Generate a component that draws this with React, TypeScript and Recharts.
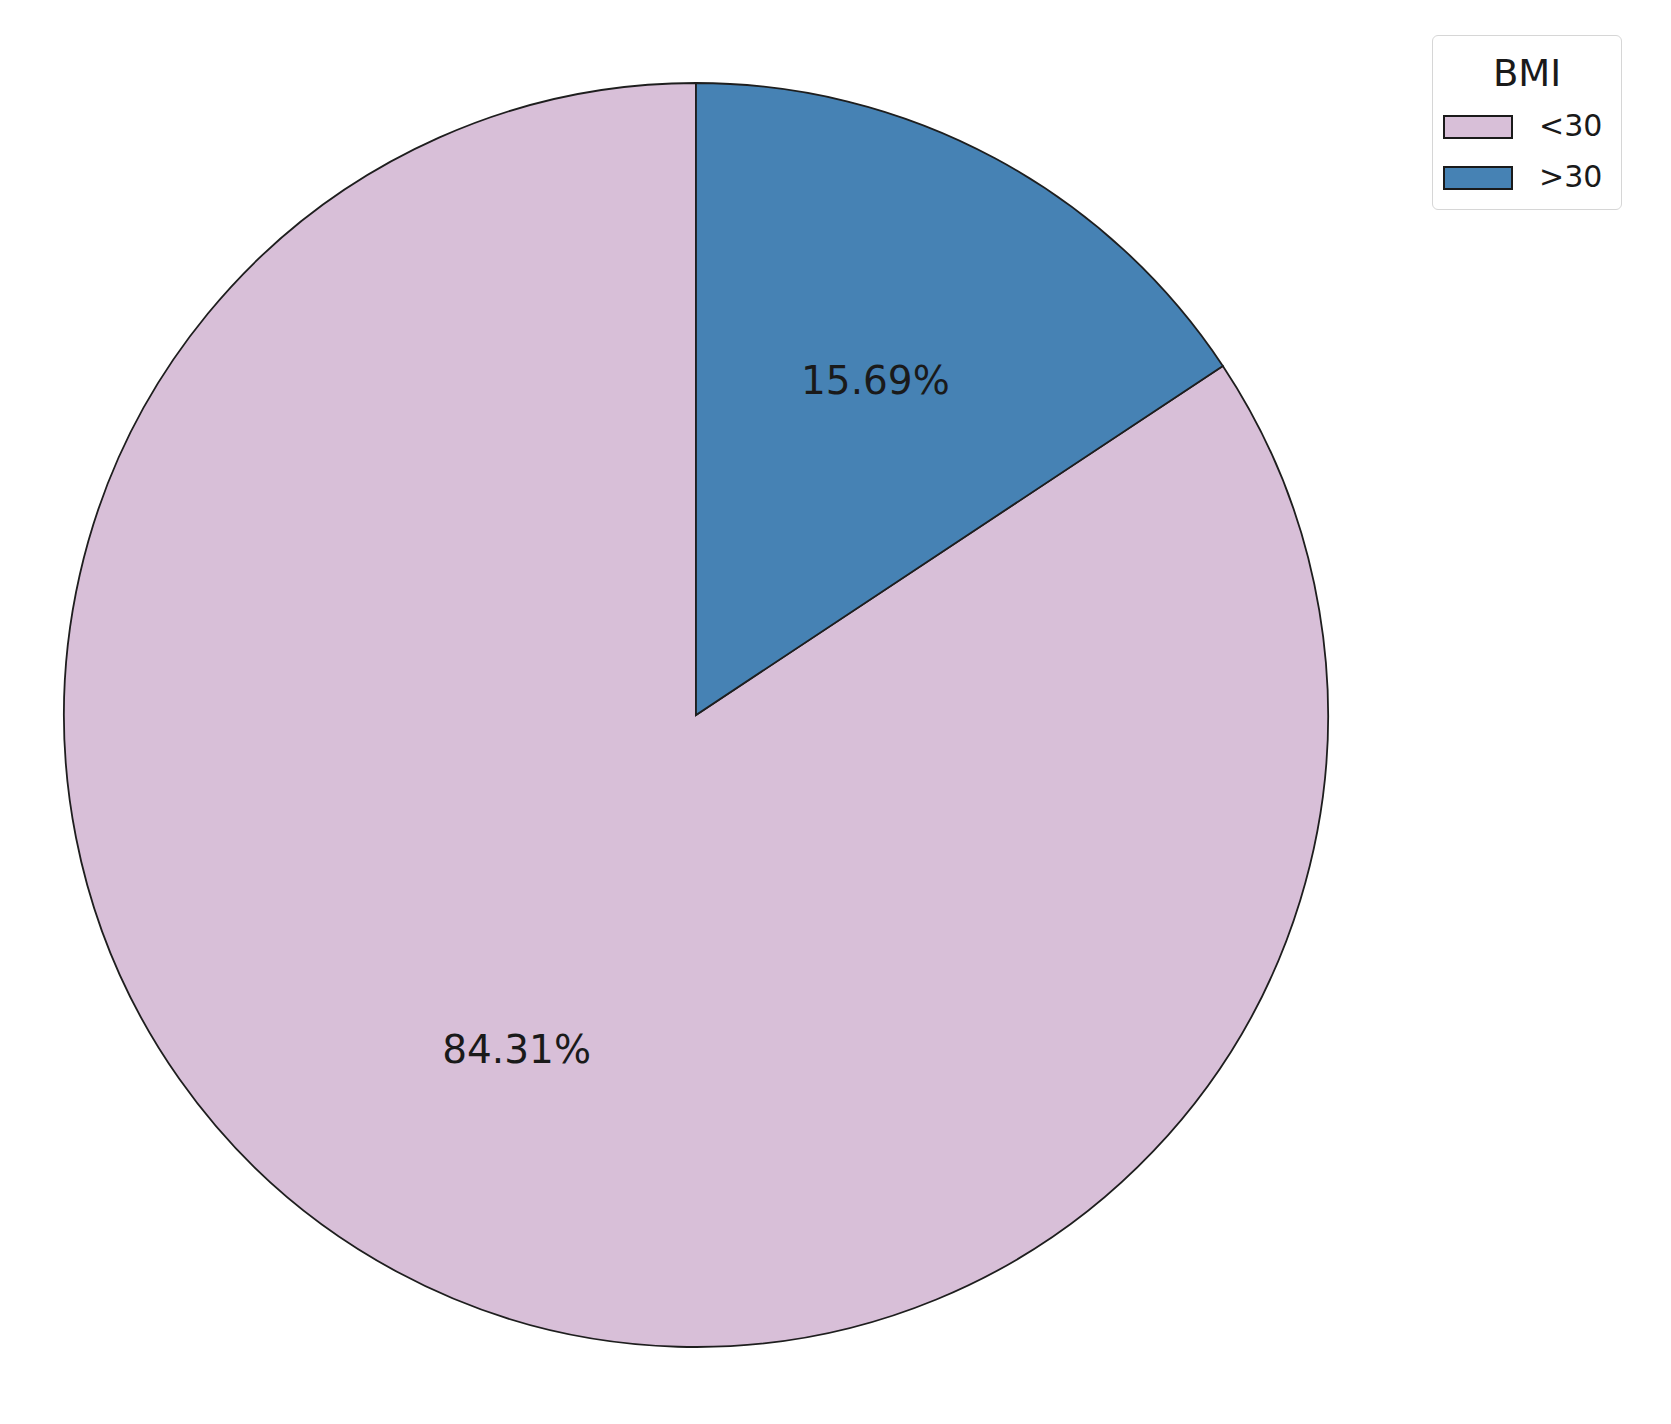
import { PieChart, Pie, Cell, Legend } from 'recharts';

const categories = ['<30', '>30'];
const counts = [43, 8];
const colors = ['#D8BFD8', '#4682B4'];

const data = categories.map((name, i) => ({ name, value: counts[i] }));
const total = counts.reduce((a, b) => a + b, 0);

const RADIAN = Math.PI / 180;

function renderLabel(props: any) {
  const { cx, cy, midAngle, outerRadius, value } = props;
  const r = outerRadius * 0.6;
  const x = cx + r * Math.cos(-midAngle * RADIAN);
  const y = cy + r * Math.sin(-midAngle * RADIAN);
  return (
    <text
      x={x}
      y={y}
      textAnchor="middle"
      dominantBaseline="central"
      fontFamily="DejaVu Sans"
      fontSize={39}
      fill="#1a1a1a"
    >
      {((value / total) * 100).toFixed(2)}%
    </text>
  );
}

function LegendBox() {
  return (
    <div
      style={{
        position: 'relative',
        width: 190,
        height: 175,
        boxSizing: 'border-box',
        border: '1.5px solid #d6d6d6',
        borderRadius: 6,
        background: '#fff',
        fontFamily: 'DejaVu Sans',
        color: '#1a1a1a',
      }}
    >
      <div style={{ position: 'absolute', left: 0, width: '100%', top: 14, textAlign: 'center', fontSize: 37, lineHeight: '48px' }}>
        BMI
      </div>
      {categories.map((c, i) => (
        <div key={c}>
          <div
            style={{
              position: 'absolute',
              left: 10,
              top: 79 + i * 51,
              width: 70,
              height: 24,
              boxSizing: 'border-box',
              background: colors[i],
              border: '2px solid #1a1a1a',
            }}
          />
          <div style={{ position: 'absolute', left: 106, top: 70 + i * 51, fontSize: 30, lineHeight: '40px' }}>{c}</div>
        </div>
      ))}
    </div>
  );
}

export default function App() {
  return (
    <div style={{ position: 'absolute', left: 0, top: 0, background: '#fff' }}>
      <PieChart width={1671} height={1424} margin={{ top: 0, right: 0, bottom: 0, left: 0 }}>
        <Pie
          data={data}
          dataKey="value"
          nameKey="name"
          cx={696}
          cy={715}
          outerRadius={632}
          startAngle={90}
          endAngle={450}
          stroke="#1e1e1e"
          strokeWidth={1.8}
          label={renderLabel}
          labelLine={false}
          isAnimationActive={false}
        >
          {data.map((d, i) => (
            <Cell key={d.name} fill={colors[i]} />
          ))}
        </Pie>
        <Legend
          content={() => <LegendBox />}
          wrapperStyle={{ position: 'absolute', left: 1432, top: 35, width: 190, height: 175 }}
        />
      </PieChart>
    </div>
  );
}
